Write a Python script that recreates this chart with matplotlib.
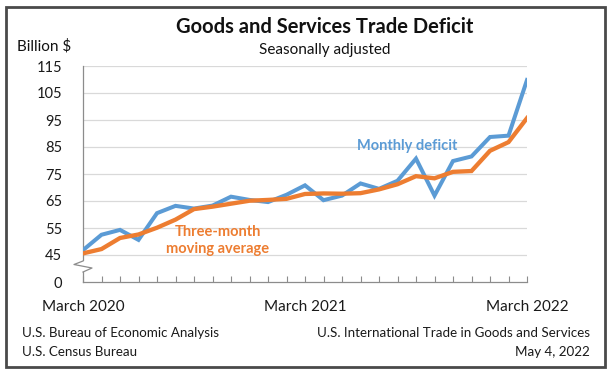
import numpy as np
import matplotlib
matplotlib.use("Agg")
import matplotlib.pyplot as plt
from matplotlib.patches import Rectangle
from matplotlib.lines import Line2D

months = ["Mar 2020", "Apr 2020", "May 2020", "Jun 2020", "Jul 2020", "Aug 2020",
          "Sep 2020", "Oct 2020", "Nov 2020", "Dec 2020", "Jan 2021", "Feb 2021",
          "Mar 2021", "Apr 2021", "May 2021", "Jun 2021", "Jul 2021", "Aug 2021",
          "Sep 2021", "Oct 2021", "Nov 2021", "Dec 2021", "Jan 2022", "Feb 2022",
          "Mar 2022"]
monthly_deficit = [46.8, 52.5, 54.3, 50.6, 60.5, 63.2, 62.2, 63.3, 66.6, 65.4,
                   64.6, 67.3, 70.8, 65.3, 67.0, 71.5, 69.5, 72.5, 80.7, 67.0,
                   79.8, 81.5, 88.7, 89.2, 109.8]
moving_avg = [45.6, 47.2, 51.3, 52.6, 55.1, 58.1, 62.0, 62.9, 64.0, 65.1,
              65.4, 65.8, 67.6, 67.8, 67.7, 67.9, 69.3, 71.2, 74.2, 73.4,
              75.8, 76.1, 83.6, 86.8, 95.7]
y_ticks = [0, 45, 55, 65, 75, 85, 95, 105, 115]
x_labels = {0: "March 2020", 12: "March 2021", 24: "March 2022"}

FONT = "Lato"
plt.rcParams["font.family"] = [FONT, "DejaVu Sans"]

W, H = 610, 374
fig = plt.figure(figsize=(W / 100, H / 100), dpi=100)
fig.patch.set_facecolor("white")

# outer border
fig.patches.append(Rectangle((6 / W, 7 / H), 599 / W, 360 / H, transform=fig.transFigure,
                             fill=False, edgecolor="#4a4a4a", linewidth=2.0))

ax = fig.add_axes([83 / W, 1 - 282 / H, 444 / W, 216 / H])


def fwd(v):
    v = np.asarray(v, dtype=float)
    return np.where(v >= 45, (v - 35) / 10.0, v / 45.0)


def inv(u):
    u = np.asarray(u, dtype=float)
    return np.where(u >= 1, u * 10.0 + 35, u * 45.0)


ax.set_yscale("function", functions=(fwd, inv))
ax.set_ylim(0, 115)
x = np.arange(len(months))
ax.set_xlim(0, len(months) - 1)

ax.set_yticks(y_ticks)
ax.set_yticklabels([str(t) for t in y_ticks], fontsize=10.5, color="#1a1a1a")
ax.tick_params(axis="y", length=0, pad=15)
for t in y_ticks[1:]:
    ax.axhline(t, color="#d9d9d9", linewidth=0.9, zorder=0)

ax.set_xticks(x)
ax.set_xticklabels([x_labels.get(i, "") for i in x], fontsize=11, color="#1a1a1a")
ax.tick_params(axis="x", direction="in", length=4, width=0.8, color="#8c8c8c", pad=13)

for s in ["top", "right"]:
    ax.spines[s].set_visible(False)
for s in ["left", "bottom"]:
    ax.spines[s].set_color("#8c8c8c")
    ax.spines[s].set_linewidth(0.9)

ax.plot(x, monthly_deficit, color="#5B9BD5", linewidth=2.9, solid_joinstyle="miter", zorder=3)
ax.plot(x, moving_avg, color="#ED7D31", linewidth=3.1, solid_joinstyle="miter", zorder=4)

# axis break zigzag (figure pixel coords)
fig.patches.append(Rectangle((81 / W, 1 - 272 / H), 5 / W, 11 / H, transform=fig.transFigure,
                             facecolor="white", edgecolor="none", zorder=5))
fig.lines.append(Line2D(
    [83 / W, 74 / W, 92 / W, 83 / W],
    [1 - 261 / H, 1 - 264.5 / H, 1 - 268 / H, 1 - 272 / H],
    transform=fig.transFigure, color="#8c8c8c", linewidth=0.9, zorder=6))

# annotations
ax.text(17.5, 85.4, "Monthly deficit", color="#5B9BD5", fontsize=10.5, fontweight="bold",
        ha="center", va="center")
ax.text(7.3, 50.4, "Three-month\nmoving average", color="#ED7D31", fontsize=10.5,
        fontweight="bold", ha="center", va="center", linespacing=1.2)

# titles
fig.text(325 / W, 1 - 27 / H, "Goods and Services Trade Deficit", fontsize=14.5,
         fontweight="bold", ha="center", va="center", color="#111111")
fig.text(325 / W, 1 - 50 / H, "Seasonally adjusted", fontsize=11, ha="center",
         va="center", color="#111111")
fig.text(17 / W, 1 - 46 / H, "Billion $", fontsize=11, ha="left", va="center",
         color="#111111")

# footer
fig.text(22 / W, 1 - 333 / H, "U.S. Bureau of Economic Analysis", fontsize=9.6,
         ha="left", va="center", color="#1a1a1a")
fig.text(22 / W, 1 - 352 / H, "U.S. Census Bureau", fontsize=9.6, ha="left",
         va="center", color="#1a1a1a")
fig.text(590 / W, 1 - 333 / H, "U.S. International Trade in Goods and Services",
         fontsize=9.6, ha="right", va="center", color="#1a1a1a")
fig.text(590 / W, 1 - 352 / H, "May 4, 2022", fontsize=9.6, ha="right", va="center",
         color="#1a1a1a")

fig.savefig("out.png", dpi=100, facecolor="white")
